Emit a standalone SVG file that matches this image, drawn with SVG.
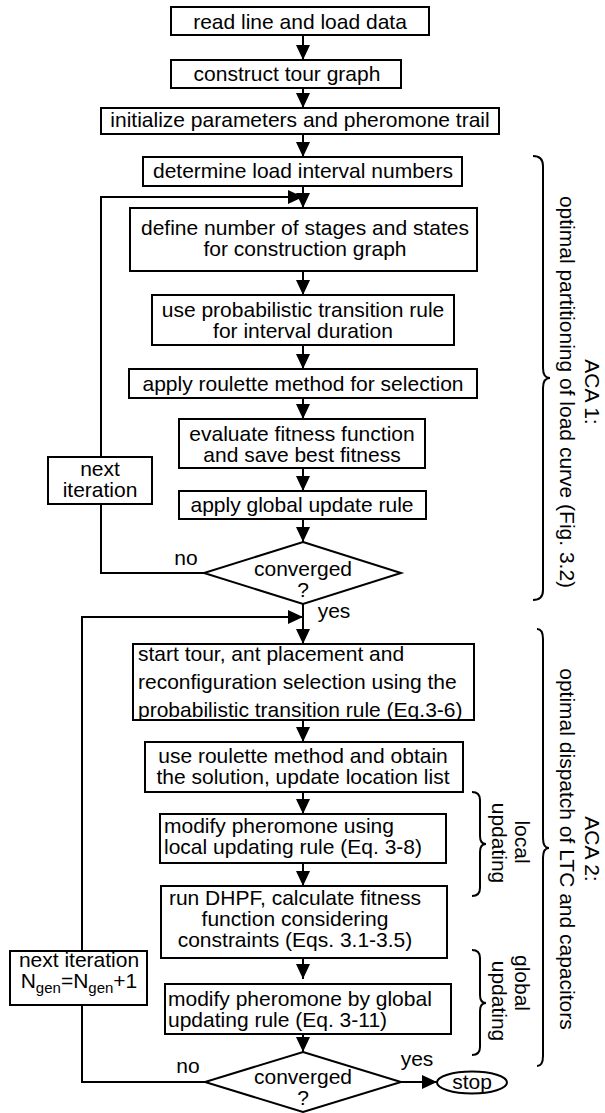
<svg xmlns="http://www.w3.org/2000/svg" width="605" height="1113" viewBox="0 0 605 1113">
<style>
.box{fill:#fff;stroke:#000;stroke-width:2}
.ln{fill:none;stroke:#000;stroke-width:2}
.br{fill:none;stroke:#000;stroke-width:2}
text{font-family:"Liberation Sans",Arial,Helvetica,sans-serif;font-size:21px;fill:#000}
.c{text-anchor:middle}
.s{text-anchor:start}
</style>
<defs>
<marker id="ah" markerUnits="userSpaceOnUse" markerWidth="16" markerHeight="14" refX="15" refY="7" orient="auto">
<path d="M0,0 L15,7 L0,14 z" fill="#000"/>
</marker>
</defs>
<rect width="605" height="1113" fill="#fff"/>
<g id="connectors">
<path class="ln" d="M303,36 V60" marker-end="url(#ah)"/>
<path class="ln" d="M303,88 V108" marker-end="url(#ah)"/>
<path class="ln" d="M303,134 V157" marker-end="url(#ah)"/>
<path class="ln" d="M303,186 V208" marker-end="url(#ah)"/>
<path class="ln" d="M303,271 V295" marker-end="url(#ah)"/>
<path class="ln" d="M303,345 V369" marker-end="url(#ah)"/>
<path class="ln" d="M303,398 V419" marker-end="url(#ah)"/>
<path class="ln" d="M303,468 V491" marker-end="url(#ah)"/>
<path class="ln" d="M303,519 V542" marker-end="url(#ah)"/>
<path class="ln" d="M204,573 H101 V197 H303" marker-end="url(#ah)"/>
<path class="ln" d="M303,604 V644" marker-end="url(#ah)"/>
<path class="ln" d="M303,720 V742" marker-end="url(#ah)"/>
<path class="ln" d="M303,792 V814" marker-end="url(#ah)"/>
<path class="ln" d="M303,863 V886" marker-end="url(#ah)"/>
<path class="ln" d="M303,958 V979" marker-end="url(#ah)"/>
<path class="ln" d="M303,1034 V1052" marker-end="url(#ah)"/>
<path class="ln" d="M401,1082 H437" marker-end="url(#ah)"/>
<path class="ln" d="M205,1082 H82 V617 H303" marker-end="url(#ah)"/>
</g>
<g id="n1"><rect class="box" x="171" y="7" width="258" height="28"/><text class="c" x="300" y="29">read line and load data</text></g>
<g id="n2"><rect class="box" x="171" y="60" width="230" height="28"/><text class="c" x="287" y="81">construct tour graph</text></g>
<g id="n3"><rect class="box" x="101" y="108" width="398" height="26"/><text class="c" x="300" y="127">initialize parameters and pheromone trail</text></g>
<g id="n4"><rect class="box" x="143" y="157" width="319" height="29"/><text class="c" x="303" y="178">determine load interval numbers</text></g>
<g id="n5"><rect class="box" x="130" y="208" width="347" height="63"/><text class="c" x="305" y="235">define number of stages and states</text><text class="c" x="305" y="256">for construction graph</text></g>
<g id="n6"><rect class="box" x="152" y="295" width="302" height="50"/><text class="c" x="303" y="317">use probabilistic transition rule</text><text class="c" x="303" y="338">for interval duration</text></g>
<g id="n7"><rect class="box" x="129" y="369" width="348" height="29"/><text class="c" x="303" y="391">apply roulette method for selection</text></g>
<g id="n8"><rect class="box" x="179" y="419" width="246" height="49"/><text class="c" x="302" y="441">evaluate fitness function</text><text class="c" x="302" y="462">and save best fitness</text></g>
<g id="n9"><rect class="box" x="179" y="491" width="247" height="28"/><text class="c" x="302" y="512">apply global update rule</text></g>
<g id="n10"><polygon class="box" points="303,542 401,573 303,604 204,573"/><text class="c" x="303" y="576">converged</text><text class="c" x="303" y="597">?</text></g>
<g id="n11"><rect class="box" x="48" y="457" width="104" height="47"/><text class="c" x="100" y="476">next</text><text class="c" x="100" y="497">iteration</text></g>
<g id="n12"><rect class="box" x="133" y="644" width="341" height="76"/><text class="s" x="138" y="661">start tour, ant placement and</text><text class="s" x="138" y="689">reconfiguration selection using the</text><text class="s" x="138" y="717">probabilistic transition rule (Eq.3-6)</text></g>
<g id="n13"><rect class="box" x="145" y="742" width="318" height="50"/><text class="c" x="303" y="763">use roulette method and obtain</text><text class="c" x="303" y="784">the solution, update location list</text></g>
<g id="n14"><rect class="box" x="160" y="814" width="286" height="49"/><text class="s" x="164" y="833">modify pheromone using</text><text class="s" x="164" y="854">local updating rule (Eq. 3-8)</text></g>
<g id="n15"><rect class="box" x="161" y="886" width="286" height="72"/><text class="c" x="295" y="905">run DHPF, calculate fitness</text><text class="c" x="295" y="926">function considering</text><text class="c" x="295" y="947">constraints (Eqs. 3.1-3.5)</text></g>
<g id="n16"><rect class="box" x="165" y="984" width="286" height="50"/><text class="s" x="168" y="1006">modify pheromone by global</text><text class="s" x="168" y="1027">updating rule (Eq. 3-11)</text></g>
<g id="n17"><polygon class="box" points="303,1052 401,1082 303,1112 205,1082"/><text class="c" x="303" y="1084">converged</text><text class="c" x="303" y="1105">?</text></g>
<g id="n18"><rect class="box" x="10" y="951" width="137" height="54"/><text class="c" x="79" y="967">next iteration</text><text class="c" x="79" y="988">N<tspan font-size="15" dy="5">gen</tspan><tspan dy="-5">=N</tspan><tspan font-size="15" dy="5">gen</tspan><tspan dy="-5">+1</tspan></text></g>
<g id="n19"><ellipse class="box" cx="472" cy="1082.5" rx="35" ry="11"/><text class="c" x="472" y="1089">stop</text></g>
<g id="labels">
<text class="c" x="186" y="565">no</text>
<text class="c" x="334" y="618">yes</text>
<text class="c" x="188" y="1073">no</text>
<text class="c" x="417" y="1066">yes</text>
</g>
<g id="brace-aca1">
<path class="br" d="M533,156 Q543,156 543,166 L543,368 Q543,378 550,378 Q543,378 543,388 L543,590 Q543,600 533,600"/>
<text class="c" x="585" y="392" transform="rotate(90 585 392)">ACA 1:</text>
<text class="c" x="560" y="392" transform="rotate(90 560 392)">optimal partitioning of load curve (Fig. 3.2)</text>
</g>
<g id="brace-aca2">
<path class="br" d="M537,629 Q543,629 543,639 L543,838 Q543,848 549,848 Q543,848 543,858 L543,1056 Q543,1066 537,1066"/>
<text class="c" x="585" y="849" transform="rotate(90 585 849)">ACA 2:</text>
<text class="c" x="560" y="849" transform="rotate(90 560 849)">optimal dispatch of LTC and capacitors</text>
</g>
<g id="brace-local">
<path class="br" d="M472,792 Q480,792 480,800 L480,836 Q480,844 486,844 Q480,844 480,852 L480,888 Q480,896 472,896"/>
<text class="c" x="515" y="842" transform="rotate(90 515 842)">local</text>
<text class="c" x="492" y="843" transform="rotate(90 492 843)">updating</text>
</g>
<g id="brace-global">
<path class="br" d="M472,950 Q480,950 480,958 L480,995 Q480,1003 486,1003 Q480,1003 480,1011 L480,1047 Q480,1055 472,1055"/>
<text class="c" x="515" y="983" transform="rotate(90 515 983)">global</text>
<text class="c" x="492" y="1001" transform="rotate(90 492 1001)">updating</text>
</g>
</svg>
